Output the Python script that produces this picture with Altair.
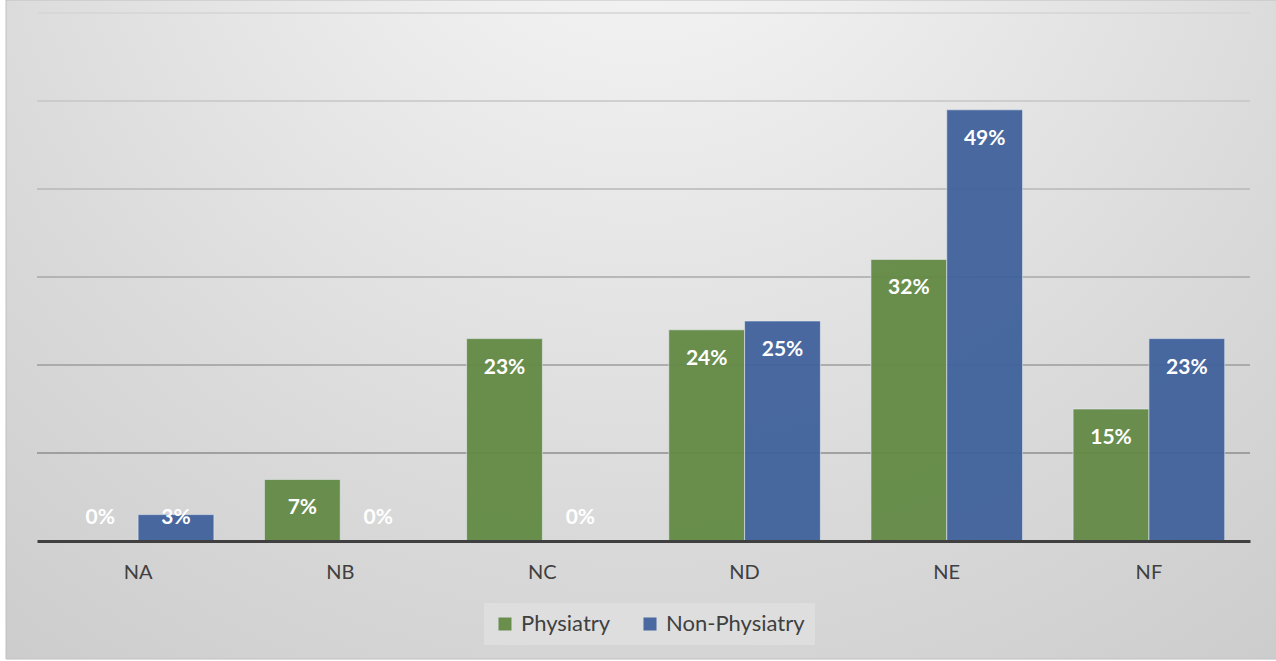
import altair as alt
import pandas as pd

categories = ["NA", "NB", "NC", "ND", "NE", "NF"]
physiatry = [0, 7, 23, 24, 32, 15]
non_physiatry = [3, 0, 0, 25, 49, 23]
series = ["Physiatry", "Non-Physiatry"]
colors = ["#638a45", "#40629c"]
grid_values = [10, 20, 30, 40, 50, 60]

rows = []
for c, p, n in zip(categories, physiatry, non_physiatry):
    rows.append({"cat": c, "series": series[0], "value": p})
    rows.append({"cat": c, "series": series[1], "value": n})
df = pd.DataFrame(rows)

W, H = 1213, 528
y_scale = alt.Scale(domain=[0, 60], nice=False)

bg = alt.Chart(pd.DataFrame({"a": [0]})).mark_rect(
    fill={
        "gradient": "radial",
        "x1": 0.5, "y1": 0.1, "r1": 0,
        "x2": 0.5, "y2": 0.1, "r2": 1.0,
        "stops": [
            {"offset": 0, "color": "#f9f9f9"},
            {"offset": 0.55, "color": "#dadada"},
            {"offset": 1, "color": "#c4c4c4"},
        ],
    },
    stroke="#c0c0c0",
    strokeWidth=1,
).encode(
    x=alt.value(-31), x2=alt.value(1240),
    y=alt.value(-13), y2=alt.value(646),
)

grid = alt.Chart(pd.DataFrame({"g": grid_values})).mark_rule(strokeWidth=1.5).encode(
    y=alt.Y("g:Q", scale=y_scale, axis=None),
    x=alt.value(0), x2=alt.value(W),
    stroke=alt.Stroke("g:Q", scale=alt.Scale(domain=[10, 60], range=["#8e8e8e", "#d4d4d4"]), legend=None),
)

x_enc = alt.X(
    "cat:N", sort=categories,
    scale=alt.Scale(paddingInner=0.25, paddingOuter=0.125),
    axis=alt.Axis(
        title=None, labelAngle=0, labelFont="Lato", labelFontSize=20,
        labelColor="#404040", labelPadding=21, ticks=False,
        domainColor="#404040", domainWidth=3, grid=False, zindex=1,
    ),
)
xo_enc = alt.XOffset("series:N", sort=series)

bars = alt.Chart(df).mark_bar(
    opacity=0.95, stroke="#e8edf2", strokeWidth=1, strokeOpacity=0.6
).encode(
    x=x_enc,
    xOffset=xo_enc,
    y=alt.Y("value:Q", scale=y_scale, axis=None),
    color=alt.Color(
        "series:N", sort=series,
        scale=alt.Scale(domain=series, range=colors),
        legend=alt.Legend(
            title=None, orient="none", legendX=447, legendY=590,
            direction="horizontal", fillColor="#dedede", padding=10,
            symbolType="square", symbolSize=169, symbolStrokeWidth=0,
            labelFont="Lato", labelFontSize=22, labelColor="#404040",
            columnPadding=28, labelOffset=5,
        ),
    ),
)

labels = alt.Chart(df).transform_calculate(
    ly="max(datum.value, 5.9)", lbl="datum.value + '%'"
).mark_text(
    font="Lato", fontWeight="bold", fontSize=21, color="white", dy=29, baseline="middle"
).encode(
    x=alt.X("cat:N", sort=categories),
    xOffset=xo_enc,
    y=alt.Y("ly:Q", scale=y_scale, axis=None),
    text="lbl:N",
)

chart = alt.layer(bg, grid, bars, labels).properties(
    width=W, height=H,
    padding={"left": 37, "top": 13, "right": 26, "bottom": 120},
    autosize="none",
    background="white",
).configure_view(stroke=None)

chart.save("out.html", embed_options={"renderer": "svg", "actions": False})
